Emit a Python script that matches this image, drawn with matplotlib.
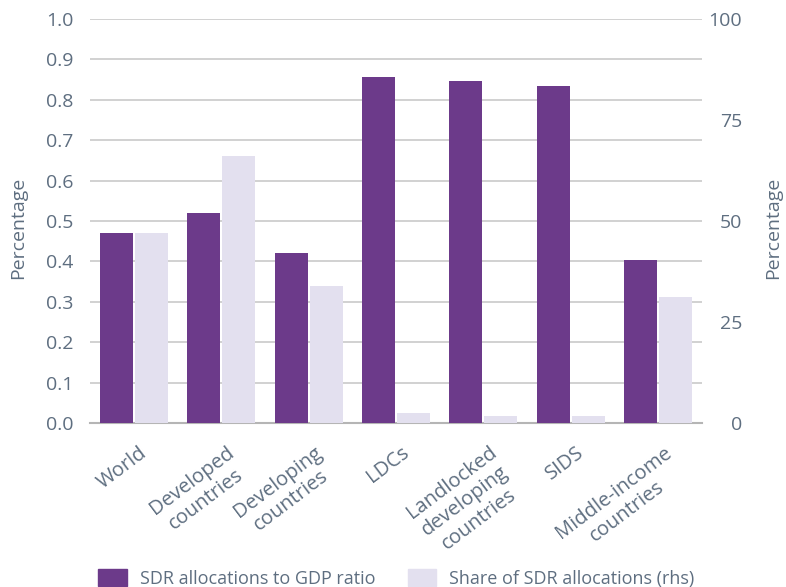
import numpy as np
import matplotlib.pyplot as plt
from matplotlib.patches import Patch
import matplotlib.transforms as mtransforms

# data
categories = ["World", "Developed\ncountries", "Developing\ncountries", "LDCs",
              "Landlocked\ndeveloping\ncountries", "SIDS", "Middle-income\ncountries"]
gdp_ratio = [0.47, 0.52, 0.42, 0.856, 0.847, 0.834, 0.403]
sdr_share = [47.0, 66.1, 33.9, 2.5, 1.7, 1.7, 31.3]

purple = "#6C3A8A"
lavender = "#E3E0EF"
text_col = "#5E6E80"
grid_col = "#C9C9C9"

plt.rcParams["font.family"] = ["Open Sans", "DejaVu Sans"]
plt.rcParams["font.size"] = 13

fig = plt.figure(figsize=(7.86, 5.87), dpi=100)
ax = fig.add_axes([0.1145, 0.279, 0.7786, 0.689])
ax2 = ax.twinx()

x = np.arange(len(categories))
w = 0.378
ax.bar(x - 0.2, gdp_ratio, width=w, color=purple, zorder=3)
ax2.bar(x + 0.2, sdr_share, width=w, color=lavender, zorder=3)

ax.set_xlim(-0.5, len(categories) - 0.5)
ax.set_ylim(0, 1.0)
ax2.set_ylim(0, 100)
ax.set_yticks(np.arange(0, 1.01, 0.1))
ax.set_yticklabels([f"{v:.1f}" for v in np.arange(0, 1.01, 0.1)])
ax2.set_yticks([0, 25, 50, 75, 100])

ax.yaxis.grid(True, color=grid_col, linewidth=1.2, zorder=0)
ax.set_axisbelow(True)
ax2.set_zorder(ax.get_zorder() + 1)
ax2.patch.set_visible(False)

for a in (ax, ax2):
    for s in ["top", "left", "right", "bottom"]:
        a.spines[s].set_visible(False)
    a.tick_params(length=0, colors=text_col, labelsize=14)
ax.spines["bottom"].set_visible(True)
ax.spines["bottom"].set_color("#B5B5B5")
ax.spines["bottom"].set_linewidth(1.5)
ax.tick_params(axis="y", pad=12)
ax2.tick_params(axis="y", pad=29)
for lbl in ax2.get_yticklabels():
    lbl.set_horizontalalignment("right")

# rotated category labels, pushed a bit right of the bar pair centre
ax.tick_params(axis="x", pad=14)
ax.set_xticks(x)
ax.set_xticklabels(categories, rotation=37, ha="right", rotation_mode="anchor",
                   multialignment="center", color=text_col, linespacing=1.2,
                   fontsize=14.5)
offset = mtransforms.ScaledTranslation(0.05, 0.0, fig.dpi_scale_trans)
for lbl in ax.get_xticklabels():
    lbl.set_transform(lbl.get_transform() + offset)

ax.set_ylabel("Percentage", color=text_col, fontsize=14, va="center")
ax2.set_ylabel("Percentage", color=text_col, fontsize=14, va="center")
ax.yaxis.set_label_coords(-0.118, 0.483)
ax2.yaxis.set_label_coords(1.116, 0.483)

handles = [Patch(color=purple, label="SDR allocations to GDP ratio"),
           Patch(color=lavender, label="Share of SDR allocations (rhs)")]
fig.legend(handles=handles, loc="center", bbox_to_anchor=(0.504, 0.015), ncol=2,
           frameon=False, fontsize=13, labelcolor=text_col, handlelength=1.6,
           handleheight=1.1, columnspacing=1.8, handletextpad=0.7)

fig.savefig("out.png", dpi=100)
